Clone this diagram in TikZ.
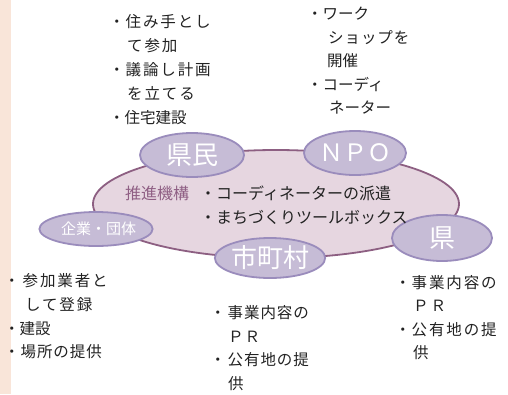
\documentclass[tikz,border=0pt]{standalone}
\usepackage{fontspec}
\setmainfont{Noto Sans CJK JP}
\newfontfamily\spcA[LetterSpace=12]{Noto Sans CJK JP}
\newfontfamily\spcB[LetterSpace=6]{Noto Sans CJK JP}
\usetikzlibrary{shapes.geometric}
\definecolor{bandc}{HTML}{F9E5D9}
\definecolor{bigfill}{HTML}{E6D6E0}
\definecolor{bigline}{HTML}{8D5F82}
\definecolor{lavfill}{HTML}{C6BCD6}
\definecolor{lavline}{HTML}{9A8CBC}
\definecolor{mauve}{HTML}{8F5F84}
\definecolor{ink}{HTML}{222222}
\begin{document}
\begin{tikzpicture}[x=1pt,y=-1pt,
  ln/.style={anchor=west,inner sep=0pt,text height=13.6pt,text depth=1.9pt,
    font=\fontsize{15.5}{18}\selectfont,text=ink},
  lnc/.style={anchor=west,inner sep=0pt,text height=14.1pt,text depth=1.9pt,
    font=\fontsize{16}{18}\selectfont,text=ink},
  bigell/.style={ellipse,draw=bigline,fill=bigfill,line width=1.8pt,inner sep=0pt},
  lav/.style={ellipse,draw=lavline,fill=lavfill,line width=1.8pt,inner sep=0pt,text=white},
  bigtxt/.style={font=\fontsize{26}{28}\selectfont},
]
\useasboundingbox (0,0) rectangle (508,394);
\fill[white] (0,0) rectangle (508,394);
\fill[bandc] (0,0) rectangle (11,394);

% central body
\node[bigell,minimum width=366pt,minimum height=108pt] (body) at (276,204) {};

% partner ellipses
\node[lav,bigtxt,minimum width=104pt,minimum height=44pt] (kenmin) at (192,155) {県民};
\node[lav,font=\fontsize{24}{26}\selectfont,minimum width=102pt,minimum height=44pt] (npo) at (355,153) {ＮＰＯ};
\node[lav,font=\fontsize{15}{17}\selectfont,minimum width=94pt,minimum height=34pt] (kigyo) at (96,229) {\hspace{5pt}企業・団体};
\node[lav,bigtxt,minimum width=104pt,minimum height=40pt] (shicho) at (270,258) {市町村};
\node[lav,bigtxt,minimum width=100pt,minimum height=46pt] (ken) at (442,238) {県};

% centre texts
\node[lnc,text=mauve] (suishin) at (125,193) {推進機構};
\node[lnc] (c1) at (200,193) {・コーディネーターの派遣};
\node[lnc] (c2) at (200,217) {・まちづくりツールボックス};

% top-left block (県民)
\node[ln] (a1) at (109,22) {\spcA ・\hspace{1pt}住み手とし};
\node[ln] (a2) at (127,46) {\spcA て参加};
\node[ln] (a3) at (109,70) {\spcA ・\hspace{1pt}議論し計画};
\node[ln] (a4) at (127,94) {\spcA を立てる};
\node[ln] (a5) at (109,118) {・住宅建設};

% top-right block (NPO)
\node[ln] (b1) at (307,14) {・ワーク};
\node[ln] (b2) at (328,38) {\spcB ショップを};
\node[ln] (b3) at (327,61) {開催};
\node[ln] (b4) at (307,85) {・コーディ};
\node[ln] (b5) at (329,108) {ネーター};

% bottom-left block (企業・団体)
\node[ln] (d1) at (4,281) {\spcA ・\hspace{3pt}参加業者と};
\node[ln] (d2) at (25,305) {\spcA して登録};
\node[ln] (d3) at (4,329) {・建設};
\node[ln] (d4) at (4,352) {\spcB ・場所の提供};

% bottom-middle block (市町村)
\node[ln] (e1) at (210,313) {\spcB ・\hspace{2pt}事業内容の};
\node[ln] (e2) at (228,337) {\spcB ＰＲ};
\node[ln] (e3) at (210,360) {\spcB ・\hspace{2pt}公有地の提};
\node[ln] (e4) at (228,384) {供};

% bottom-right block (県)
\node[ln] (f1) at (395,283) {\spcA ・\hspace{1pt}事業内容の};
\node[ln] (f2) at (413,306) {\spcA ＰＲ};
\node[ln] (f3) at (395,330) {\spcA ・\hspace{1pt}公有地の提};
\node[ln] (f4) at (413,353) {供};
\end{tikzpicture}
\end{document}
